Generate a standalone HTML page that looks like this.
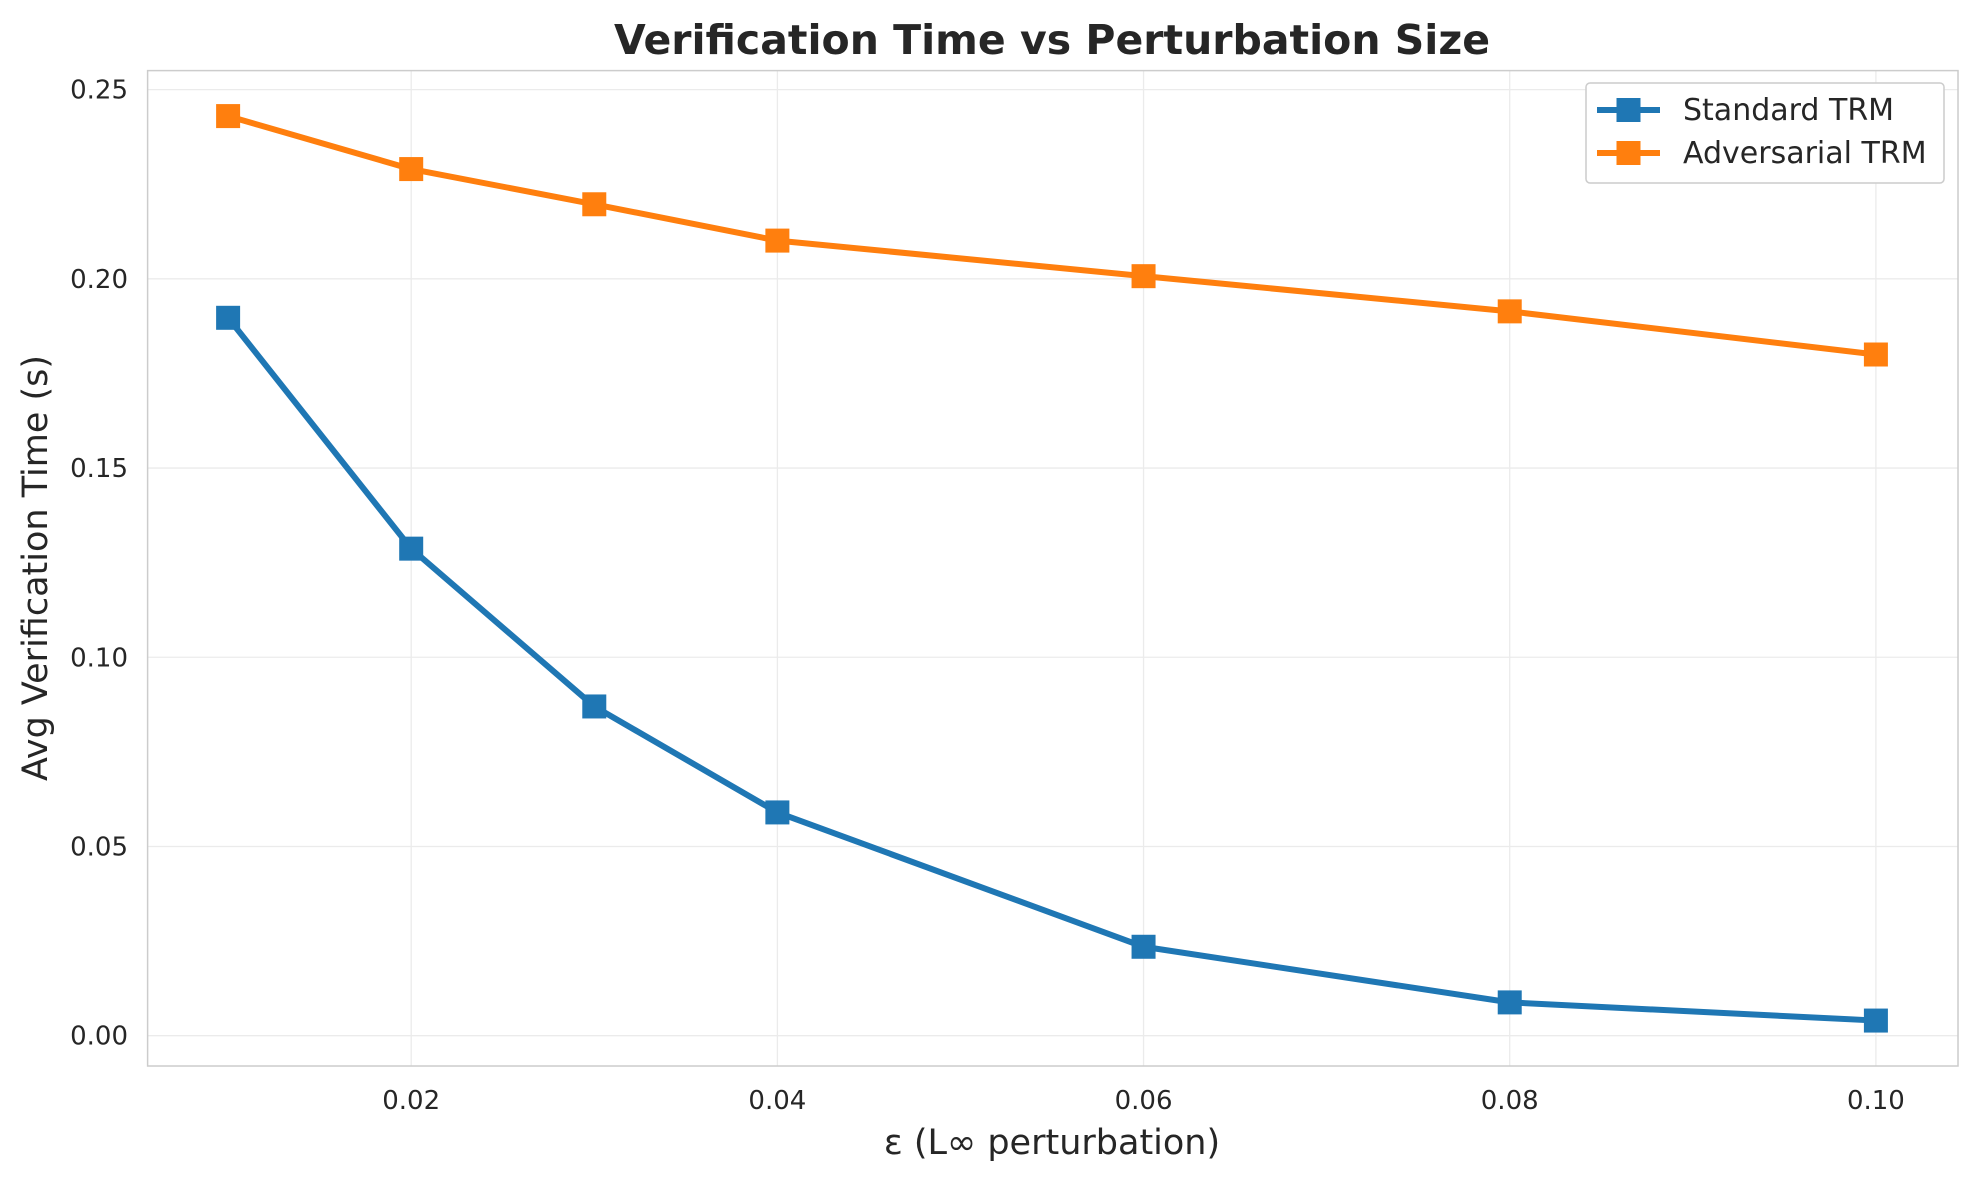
<!DOCTYPE html>
<html><head><meta charset="utf-8"><style>html,body{margin:0;padding:0;background:#fff}svg{display:block}</style></head>
<body>
<svg id="chart" width="1978" height="1179" xmlns="http://www.w3.org/2000/svg" font-family="'DejaVu Sans','Liberation Sans',sans-serif">
<rect width="1978" height="1179" fill="#fff"/>
<g id="grid"></g>
<rect x="147.6" y="70.6" width="1810.4" height="995.4" fill="none" stroke="#ccc" stroke-width="1.5"/>
<g id="series"></g>
<g id="ticks" font-size="26" fill="#262626"></g>
<text x="1052" y="54" text-anchor="middle" font-size="41" font-weight="bold" fill="#262626">Verification Time vs Perturbation Size</text>
<text x="1052" y="1154" text-anchor="middle" font-size="35" fill="#262626">ε (L∞ perturbation)</text>
<text transform="translate(47,568) rotate(-90)" text-anchor="middle" font-size="35" fill="#262626">Avg Verification Time (s)</text>
<g>
<rect x="1586" y="83" width="358" height="100" rx="4" fill="#fff" stroke="#ccc" stroke-width="1.5"/>
<g>
<line x1="1597" y1="110" x2="1660" y2="110" stroke="#1f77b4" stroke-width="6"/>
<rect x="1616.5" y="98" width="24" height="24" fill="#1f77b4"/>
<text x="1683" y="120" font-size="30" fill="#262626">Standard TRM</text></g>
<g>
<line x1="1597" y1="153" x2="1660" y2="153" stroke="#ff7f0e" stroke-width="6"/>
<rect x="1616.5" y="141" width="24" height="24" fill="#ff7f0e"/>
<text x="1683" y="163" font-size="30" fill="#262626">Adversarial TRM</text></g>
</g>
</svg>
<script>
const epsilons = [0.01, 0.02, 0.03, 0.04, 0.06, 0.08, 0.10];
const standardTimes = [0.1897, 0.1287, 0.0870, 0.0590, 0.0235, 0.0088, 0.0040];
const adversarialTimes = [0.2430, 0.2290, 0.2197, 0.2101, 0.2007, 0.1914, 0.1800];
const xTicks = [0.02, 0.04, 0.06, 0.08, 0.10];
const xTickLabels = ["0.02", "0.04", "0.06", "0.08", "0.10"];
const yTicks = [0, 0.05, 0.10, 0.15, 0.20, 0.25];
const yTickLabels = ["0.00", "0.05", "0.10", "0.15", "0.20", "0.25"];

const NS = "http://www.w3.org/2000/svg";
const X0 = 147.6, X1 = 1958, Y0 = 70.6, Y1 = 1066;
function xs(v){ return 411.2 + (v - 0.02) * (1875.9 - 411.2) / 0.08; }
function ys(v){ return 1035.7 - v * (1035.7 - 89.6) / 0.25; }
function mk(tag, attrs, parent){ const e = document.createElementNS(NS, tag); for (const k in attrs) e.setAttribute(k, attrs[k]); parent.appendChild(e); return e; }

const grid = document.getElementById('grid');
const ticks = document.getElementById('ticks');
xTicks.forEach((t, i) => {
  const g = mk('line', {x1: xs(t), x2: xs(t), y1: Y0, y2: Y1, stroke: '#ebebeb', 'stroke-width': 1.3}, grid);
  
  
  const tx = mk('text', {x: xs(t), y: 1109, 'text-anchor': 'middle'}, ticks);
  tx.textContent = xTickLabels[i];
  
  
});
yTicks.forEach((t, i) => {
  const g = mk('line', {x1: X0, x2: X1, y1: ys(t), y2: ys(t), stroke: '#ebebeb', 'stroke-width': 1.3}, grid);
  
  
  const tx = mk('text', {x: 128, y: ys(t) + 9, 'text-anchor': 'end'}, ticks);
  tx.textContent = yTickLabels[i];
  
  
});

const series = document.getElementById('series');
function drawSeries(vals, color, name){
  const pts = epsilons.map((e, i) => xs(e) + ',' + ys(vals[i])).join(' ');
  const pl = mk('polyline', {points: pts, fill: 'none', stroke: color, 'stroke-width': 6, 'stroke-linejoin': 'round'}, series);
  
  
  epsilons.forEach((e, i) => {
    const r = mk('rect', {x: xs(e) - 12, y: ys(vals[i]) - 12, width: 24, height: 24, fill: color}, series);
    
    
  });
}
drawSeries(adversarialTimes, '#ff7f0e', 'adversarial-trm');
drawSeries(standardTimes, '#1f77b4', 'standard-trm');
</script>
</body></html>
